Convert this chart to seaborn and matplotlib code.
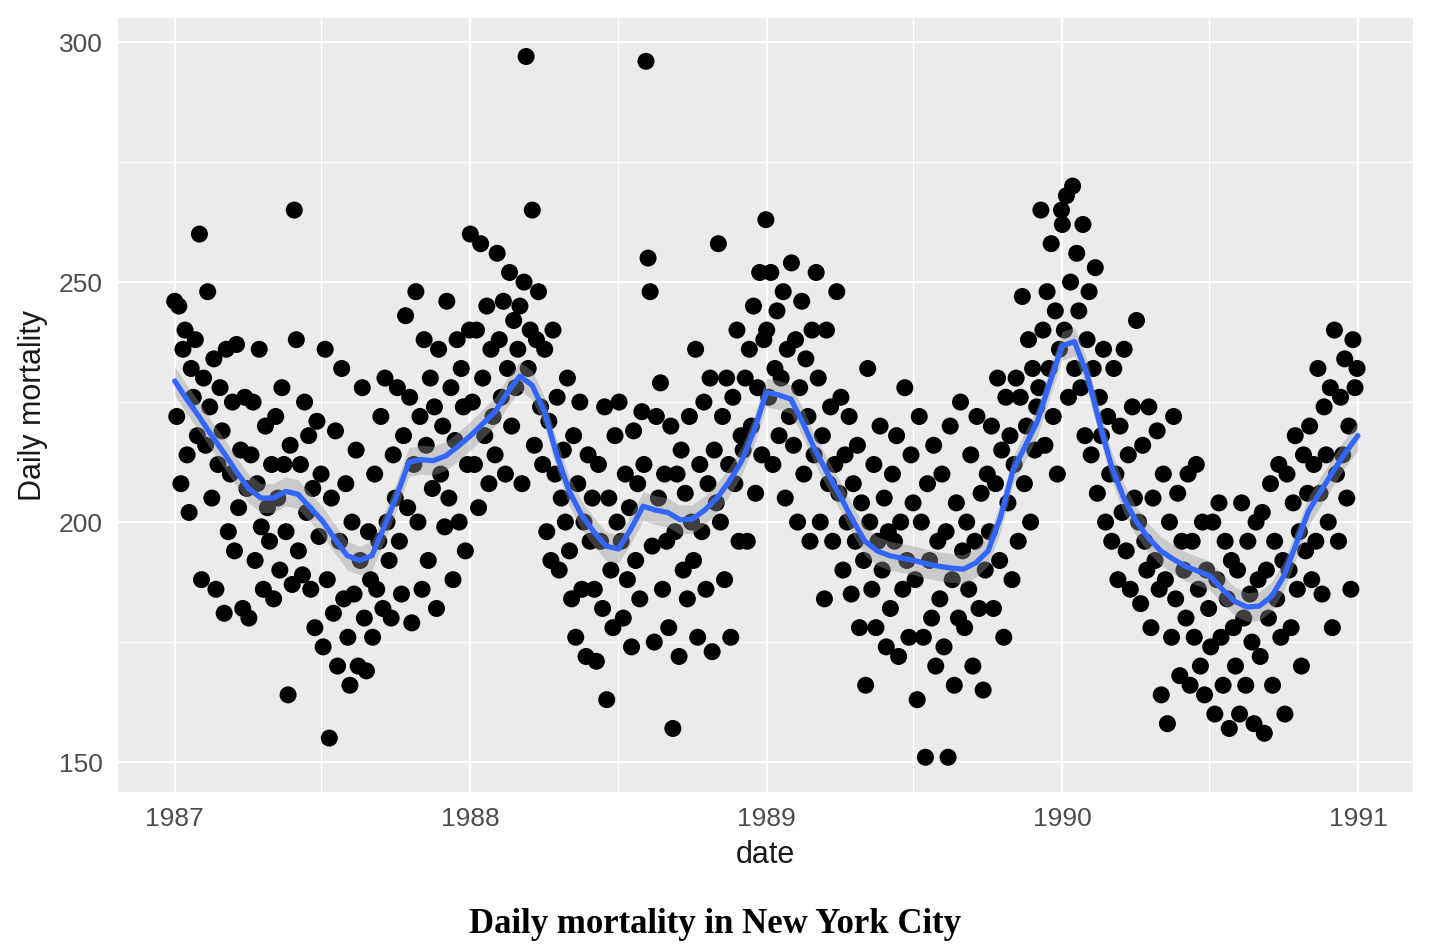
import pandas as pd
import numpy as np
import matplotlib
matplotlib.use("Agg")
import matplotlib.pyplot as plt
import matplotlib.dates as mdates
import seaborn as sns

# daily deaths (about 12 values per month)
deaths_1987 = [
    246, 222, 245, 208, 236, 240, 214, 202, 232, 226, 238, 218,
    260, 188, 230, 216, 248, 224, 205, 234, 186, 212, 228, 219,
    181, 236, 198, 210, 225, 194, 237, 203, 215, 182, 226, 207,
    180, 214, 225, 192, 208, 236, 199, 186, 220, 203, 196, 212,
    184, 222, 205, 190, 228, 212, 198, 164, 216, 187, 265, 238,
    194, 212, 189, 225, 202, 218, 186, 207, 178, 221, 197, 210,
    174, 236, 188, 155, 205, 181, 219, 170, 196, 232, 184, 208,
    176, 166, 200, 185, 215, 170, 192, 228, 180, 169, 198, 188,
    176, 210, 186, 196, 222, 182, 230, 200, 192, 180, 214, 205,
    228, 196, 185, 218, 243, 203, 226, 179, 212, 248, 200, 222,
    186, 238, 216, 192, 230, 207, 224, 182, 236, 210, 220, 199,
    246, 205, 228, 188, 217, 238, 200, 232, 224, 194, 212, 240,
]
deaths_1988 = [
    260, 225, 212, 240, 203, 258, 230, 218, 245, 208, 236, 222,
    214, 256, 238, 226, 246, 210, 232, 252, 220, 242, 228, 236,
    245, 208, 250, 297, 232, 240, 265, 216, 238, 248, 224, 212,
    236, 198, 221, 192, 240, 210, 226, 190, 205, 215, 200, 230,
    194, 184, 218, 176, 208, 225, 186, 200, 172, 214, 196, 205,
    186, 171, 212, 196, 182, 224, 163, 205, 190, 178, 218, 200,
    225, 196, 180, 210, 188, 203, 174, 219, 192, 208, 184, 223,
    212, 296, 255, 248, 195, 175, 222, 205, 229, 186, 210, 196,
    178, 220, 157, 198, 210, 172, 215, 190, 206, 184, 222, 200,
    192, 236, 176, 212, 198, 225, 186, 208, 230, 173, 215, 204,
    258, 200, 222, 188, 230, 212, 176, 226, 208, 240, 196, 218,
    215, 230, 196, 236, 220, 245, 206, 228, 252, 214, 238, 263,
]
deaths_1989 = [
    240, 226, 252, 212, 232, 244, 218, 230, 248, 205, 236, 222,
    254, 216, 238, 200, 228, 246, 210, 234, 222, 196, 240, 214,
    252, 230, 200, 218, 184, 240, 208, 224, 196, 212, 248, 206,
    226, 190, 214, 200, 222, 185, 208, 196, 216, 178, 204, 192,
    166, 232, 200, 186, 212, 178, 196, 220, 190, 205, 174, 198,
    182, 210, 196, 218, 172, 200, 186, 228, 192, 176, 214, 204,
    188, 163, 222, 200, 176, 151, 208, 192, 180, 216, 170, 196,
    184, 210, 174, 198, 151, 220, 188, 166, 204, 180, 225, 194,
    178, 200, 186, 214, 170, 196, 222, 182, 206, 165, 190, 210,
    198, 220, 182, 208, 230, 192, 215, 176, 226, 204, 218, 188,
    212, 230, 196, 226, 247, 208, 220, 238, 200, 232, 215, 224,
    228, 265, 240, 216, 248, 232, 258, 222, 244, 210, 236, 265,
]
deaths_1990 = [
    262, 240, 268, 226, 250, 270, 232, 256, 244, 228, 262, 218,
    238, 248, 214, 232, 253, 206, 226, 218, 236, 200, 222, 210,
    196, 232, 210, 188, 220, 202, 236, 194, 214, 186, 224, 205,
    242, 200, 183, 216, 196, 190, 224, 178, 205, 192, 219, 186,
    164, 210, 188, 158, 200, 176, 222, 184, 206, 168, 196, 190,
    180, 210, 166, 196, 176, 212, 186, 170, 200, 164, 190, 182,
    174, 200, 160, 188, 204, 176, 166, 196, 184, 157, 192, 178,
    170, 190, 160, 204, 180, 166, 196, 185, 175, 158, 200, 188,
    172, 202, 156, 190, 180, 208, 166, 196, 184, 212, 176, 192,
    160, 210, 190, 178, 204, 218, 186, 198, 170, 214, 194, 206,
    220, 188, 212, 196, 232, 206, 185, 224, 214, 200, 228, 178,
    240, 210, 196, 226, 214, 234, 205, 220, 186, 238, 228, 232,
]

# loess trend, read twice a month from the blue line (Jan 1987 .. Jan 1991)
trend = [
    229.4, 225.5, 221.9, 218.0, 214.4, 210.5, 207.0, 205.0, 205.0, 206.4,
    205.8, 203.0, 200.2, 196.5, 193.0, 192.0, 193.0, 199.0, 205.4, 212.5,
    213.0, 212.8, 213.8, 215.8, 218.0, 220.5, 223.0, 227.0, 230.4, 228.5,
    223.0, 214.0, 206.5, 201.5, 198.0, 195.0, 194.4, 198.5, 203.3, 202.5,
    202.0, 200.5, 200.6, 202.5, 205.0, 208.5, 212.7, 219.0, 227.0, 226.5,
    225.6, 220.5, 214.8, 210.0, 205.4, 200.5, 196.0, 194.0, 193.0, 192.5,
    192.0, 191.3, 190.8, 190.4, 190.2, 191.5, 194.0, 201.0, 210.6, 215.8,
    221.0, 229.0, 236.7, 237.6, 231.0, 221.0, 211.7, 205.0, 200.2, 196.7,
    194.0, 192.3, 190.8, 189.8, 188.8, 186.0, 183.5, 182.3, 182.5, 184.5,
    188.8, 195.5, 202.3, 206.5, 210.6, 214.5, 218.0,
]
trend_se = 3.0

frames = []
for year, vals in [(1987, deaths_1987), (1988, deaths_1988),
                   (1989, deaths_1989), (1990, deaths_1990)]:
    d = pd.date_range(f"{year}-01-01", f"{year}-12-31", periods=len(vals))
    frames.append(pd.DataFrame({"date": d, "death": vals}))
df = pd.concat(frames, ignore_index=True)

smooth = pd.DataFrame({
    "date": pd.date_range("1987-01-01", "1991-01-01", periods=len(trend)),
    "fit": trend,
})

sns.set_theme(style="darkgrid")
plt.rcParams["font.family"] = ["Liberation Sans", "DejaVu Sans"]

fig = plt.figure(figsize=(14.48, 9.52), dpi=100)
ax = fig.add_axes([0.0815, 0.168, 0.8943, 0.813])
ax.set_facecolor("#EBEBEB")

sns.scatterplot(data=df, x="date", y="death", color="black", s=150,
                edgecolor="none", ax=ax, zorder=3)
ax.fill_between(smooth["date"], smooth["fit"] - trend_se, smooth["fit"] + trend_se,
                color="#999999", alpha=0.4, lw=0, zorder=4)
sns.lineplot(data=smooth, x="date", y="fit", color="#3366FF", lw=3.8, ax=ax, zorder=5)

ax.set_xlim(pd.Timestamp("1986-10-23"), pd.Timestamp("1991-03-10"))
ax.set_ylim(143.75, 305)
ax.xaxis.set_major_locator(mdates.YearLocator())
ax.xaxis.set_minor_locator(mdates.MonthLocator(bymonth=7))
ax.xaxis.set_major_formatter(mdates.DateFormatter("%Y"))
ax.set_yticks([150, 200, 250, 300])
ax.set_yticks([175, 225, 275], minor=True)

ax.grid(which="major", color="white", lw=1.6)
ax.grid(which="minor", color="white", lw=0.8)
for s in ax.spines.values():
    s.set_visible(False)
ax.tick_params(which="major", length=5, width=1.2, color="#333333",
               labelsize=19, labelcolor="#4D4D4D", pad=6)
ax.tick_params(which="minor", length=0)

ax.set_xlabel("date", fontsize=22, color="#1A1A1A", labelpad=6)
ax.set_ylabel("Daily mortality", fontsize=22, color="#1A1A1A", labelpad=8)

fig.text(0.4935, 0.012, "Daily mortality in New York City", ha="center",
         va="bottom", fontsize=25, fontweight="bold", color="black",
         family=["Liberation Serif", "DejaVu Serif"])

fig.savefig("out.png", dpi=100, facecolor="white")
